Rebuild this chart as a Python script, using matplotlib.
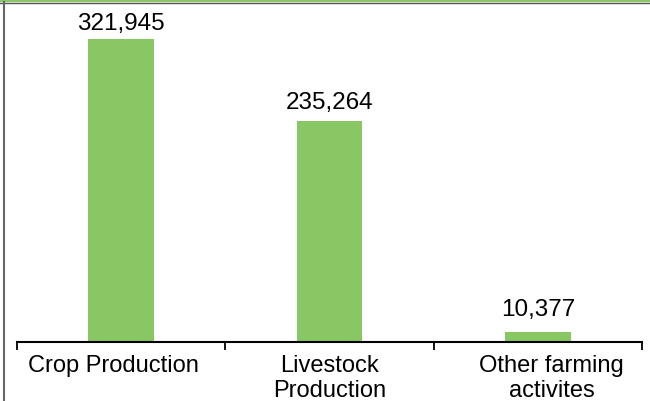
import matplotlib
matplotlib.use("Agg")
import matplotlib.pyplot as plt
import matplotlib.transforms as mtransforms
from matplotlib.lines import Line2D

categories = ["Crop Production", "Livestock\nProduction", "Other farming\nactivites"]
values = [321945, 235264, 10377]
value_labels = ["321,945", "235,264", "10,377"]

plt.rcParams['font.family'] = ['Liberation Sans', 'DejaVu Sans']

fig = plt.figure(figsize=(6.5, 4.02), dpi=100)
W, H = 650, 402
ax = fig.add_axes([17 / W, (H - 343) / H, (642 - 17) / W, (343 - 4) / H])

x = list(range(len(categories)))
ax.bar(x, values, width=0.315, color="#88C764")
ax.set_xlim(-0.5, len(categories) - 0.5)
ax.set_ylim(0, 339 / 0.000941)

label_offsets = [3.5, 5.5, 8.5]
for xi, v, lab, off in zip(x, values, value_labels, label_offsets):
    ax.annotate(lab, (xi, v), xytext=(0, off), textcoords="offset points",
                ha="center", va="bottom", fontsize=17.5)

for s in ["top", "right", "left"]:
    ax.spines[s].set_visible(False)
ax.spines["bottom"].set_linewidth(1.5)
ax.set_yticks([])
ax.set_xticks([-0.5, 0.5, 1.5, 2.5], minor=False)
ax.set_xticklabels([])
ax.tick_params(axis="x", which="major", length=6, width=1.3, direction="out")
ax.set_xticks(x, minor=True)
ax.set_xticklabels(categories, minor=True, fontsize=17, linespacing=1.18)
ax.tick_params(axis="x", which="minor", length=0, pad=8.5)

shifts = [-8, 0, 14]
for lbl, dx in zip(ax.get_xticklabels(minor=True), shifts):
    lbl.set_transform(lbl.get_transform() +
                      mtransforms.ScaledTranslation(dx / 100, 0, fig.dpi_scale_trans))

# figure frame
fig.add_artist(Line2D([0, 1], [1 - 1.2 / H, 1 - 1.2 / H], transform=fig.transFigure,
                      color="#8CC56A", linewidth=2.4))
fig.add_artist(Line2D([0, 1], [1 - 3.5 / H, 1 - 3.5 / H], transform=fig.transFigure,
                      color="#555555", linewidth=1.0))
fig.add_artist(Line2D([3.5 / W, 3.5 / W], [0, 1 - 3 / H], transform=fig.transFigure,
                      color="#666666", linewidth=1.5))

fig.savefig("out.png", dpi=100)
